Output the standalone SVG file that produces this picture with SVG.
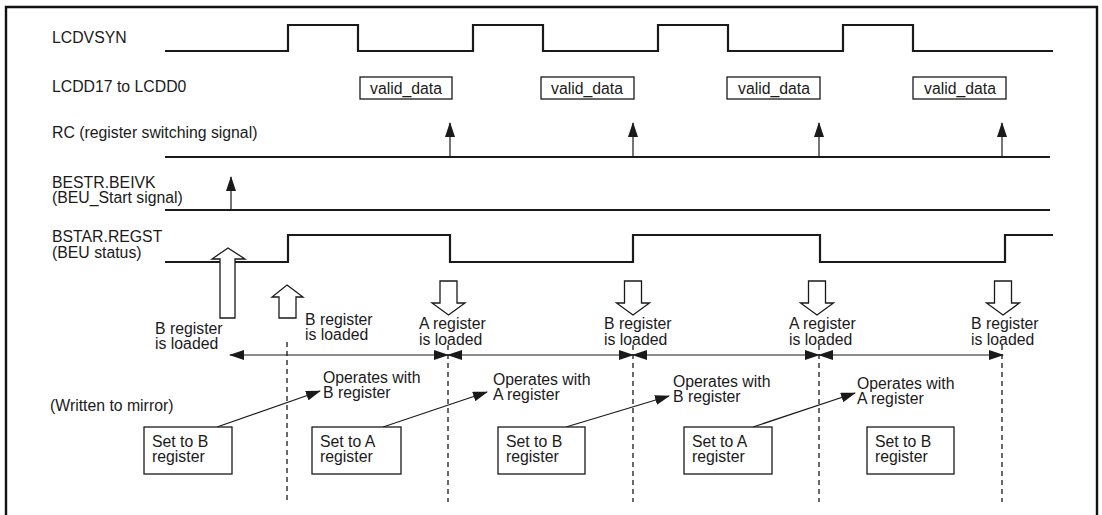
<svg xmlns="http://www.w3.org/2000/svg" width="1102" height="515" viewBox="0 0 1102 515">
<style>
.t{font-family:"Liberation Sans",Arial,sans-serif;font-size:15.8px;fill:#1a1a1a}
.sig{fill:none;stroke:#1a1a1a;stroke-width:2.2}
.thin{fill:none;stroke:#1a1a1a;stroke-width:1.2}
.box{fill:#fff;stroke:#1a1a1a;stroke-width:1.3}
.hollow{fill:#fff;stroke:#1a1a1a;stroke-width:1.3}
.dash{fill:none;stroke:#1a1a1a;stroke-width:1.3;stroke-dasharray:5,4}
</style>
<defs>
<marker id="ah" markerUnits="userSpaceOnUse" markerWidth="15" markerHeight="10" refX="14" refY="5" orient="auto-start-reverse" viewBox="0 0 15 10">
<path d="M0,0 L15,5 L0,10 z" fill="#1a1a1a"/>
</marker>
<marker id="ahs" markerUnits="userSpaceOnUse" markerWidth="15" markerHeight="10" refX="14" refY="5" orient="auto" viewBox="0 0 15 10">
<path d="M0,0 L15,5 L0,10 z" fill="#1a1a1a"/>
</marker>
</defs>
<rect x="0" y="0" width="1102" height="515" fill="#fff"/>
<path d="M6,520 V7 H1097 V520" fill="none" stroke="#111" stroke-width="2.4"/>

<g id="lcdvsyn">
<text class="t" x="52" y="43">LCDVSYN</text>
<path class="sig" d="M165,51 H288 V25 H358 V51 H473 V25 H543 V51 H658 V25 H728 V51 H843 V25 H913 V51 H1053"/>
</g>

<g id="lcdd">
<text class="t" x="52" y="92">LCDD17 to LCDD0</text>
<rect class="box" x="360" y="77" width="92" height="22"/>
<text class="t" x="370" y="94">valid_data</text>
<rect class="box" x="541" y="77" width="93" height="22"/>
<text class="t" x="551" y="94">valid_data</text>
<rect class="box" x="727" y="77" width="93" height="22"/>
<text class="t" x="738" y="94">valid_data</text>
<rect class="box" x="913" y="77" width="93" height="22"/>
<text class="t" x="924" y="94">valid_data</text>
</g>

<g id="rc">
<text class="t" x="52" y="138">RC (register switching signal)</text>
<line class="sig" x1="165" y1="157" x2="1050" y2="157"/>
<line class="thin" x1="450" y1="157" x2="450" y2="123" marker-end="url(#ahs)"/>
<line class="thin" x1="633" y1="157" x2="633" y2="123" marker-end="url(#ahs)"/>
<line class="thin" x1="819" y1="157" x2="819" y2="123" marker-end="url(#ahs)"/>
<line class="thin" x1="1002" y1="157" x2="1002" y2="123" marker-end="url(#ahs)"/>
</g>

<g id="bestr">
<text class="t" x="52" y="188">BESTR.BEIVK</text>
<text class="t" x="52" y="203">(BEU_Start signal)</text>
<line class="sig" x1="165" y1="210" x2="1050" y2="210"/>
<line class="thin" x1="231" y1="210" x2="231" y2="177" marker-end="url(#ahs)"/>
</g>

<g id="bstar">
<text class="t" x="52" y="242">BSTAR.REGST</text>
<text class="t" x="52" y="258">(BEU status)</text>
<path class="sig" d="M165,262 H288 V235 H450 V262 H633 V235 H820 V262 H1005 V235 H1053"/>
</g>

<g id="load-arrows">
<polygon class="hollow" points="228,248 245,259 235,259 235,318 220,318 220,259 212,259"/>
<polygon class="hollow" points="287,285 303,297 296,297 296,318 279,318 279,297 272,297"/>
<polygon class="hollow" points="440,281 457,281 457,303 465,303 448.5,315 432,303 440,303"/>
<polygon class="hollow" points="624.5,281 641.5,281 641.5,303 649.5,303 633,315 616.5,303 624.5,303"/>
<polygon class="hollow" points="808.5,281 825.5,281 825.5,303 833.5,303 817,315 800.5,303 808.5,303"/>
<polygon class="hollow" points="994.5,281 1011.5,281 1011.5,303 1019.5,303 1003,315 986.5,303 994.5,303"/>
</g>

<g id="load-labels">
<text class="t" x="155" y="334">B register</text>
<text class="t" x="155" y="349">is loaded</text>
<text class="t" x="305" y="325">B register</text>
<text class="t" x="305" y="340">is loaded</text>
<text class="t" x="419" y="329">A register</text>
<text class="t" x="419" y="345">is loaded</text>
<text class="t" x="604" y="329">B register</text>
<text class="t" x="604" y="345">is loaded</text>
<text class="t" x="789" y="329">A register</text>
<text class="t" x="789" y="345">is loaded</text>
<text class="t" x="971" y="329">B register</text>
<text class="t" x="971" y="345">is loaded</text>
</g>

<g id="timelines">
<line class="dash" x1="287" y1="342" x2="287" y2="502"/>
<line class="dash" x1="448" y1="345" x2="448" y2="502"/>
<line class="dash" x1="633" y1="345" x2="633" y2="502"/>
<line class="dash" x1="819" y1="345" x2="819" y2="502"/>
<line class="dash" x1="1002" y1="345" x2="1002" y2="502"/>
</g>

<g id="connectors">
<line class="thin" x1="230" y1="355" x2="448" y2="355" marker-start="url(#ah)" marker-end="url(#ah)"/>
<line class="thin" x1="448" y1="355" x2="633" y2="355" marker-start="url(#ah)" marker-end="url(#ah)"/>
<line class="thin" x1="633" y1="355" x2="819" y2="355" marker-start="url(#ah)" marker-end="url(#ah)"/>
<line class="thin" x1="819" y1="355" x2="1003" y2="355" marker-start="url(#ah)" marker-end="url(#ah)"/>
<line class="thin" x1="217" y1="427" x2="320" y2="391" marker-end="url(#ahs)"/>
<line class="thin" x1="383" y1="427" x2="487" y2="392" marker-end="url(#ahs)"/>
<line class="thin" x1="566" y1="427" x2="669" y2="396" marker-end="url(#ahs)"/>
<line class="thin" x1="753" y1="427" x2="855" y2="393" marker-end="url(#ahs)"/>
</g>

<g id="mirror-label">
<text class="t" x="50" y="411">(Written to mirror)</text>
</g>

<g id="operates">
<text class="t" x="323" y="383">Operates with</text>
<text class="t" x="323" y="398">B register</text>
<text class="t" x="493" y="385">Operates with</text>
<text class="t" x="493" y="400">A register</text>
<text class="t" x="673" y="387">Operates with</text>
<text class="t" x="673" y="402">B register</text>
<text class="t" x="857" y="389">Operates with</text>
<text class="t" x="857" y="404">A register</text>
</g>

<g id="set-boxes">
<g id="set1"><rect class="box" x="144" y="427" width="88" height="47"/><text class="t" x="152" y="447">Set to B</text><text class="t" x="152" y="462">register</text></g>
<g id="set2"><rect class="box" x="312" y="427" width="89" height="47"/><text class="t" x="320" y="447">Set to A</text><text class="t" x="320" y="462">register</text></g>
<g id="set3"><rect class="box" x="498" y="427" width="87" height="47"/><text class="t" x="506" y="447">Set to B</text><text class="t" x="506" y="462">register</text></g>
<g id="set4"><rect class="box" x="684" y="427" width="88" height="47"/><text class="t" x="692" y="447">Set to A</text><text class="t" x="692" y="462">register</text></g>
<g id="set5"><rect class="box" x="867" y="427" width="87" height="47"/><text class="t" x="875" y="447">Set to B</text><text class="t" x="875" y="462">register</text></g>
</g>
</svg>
